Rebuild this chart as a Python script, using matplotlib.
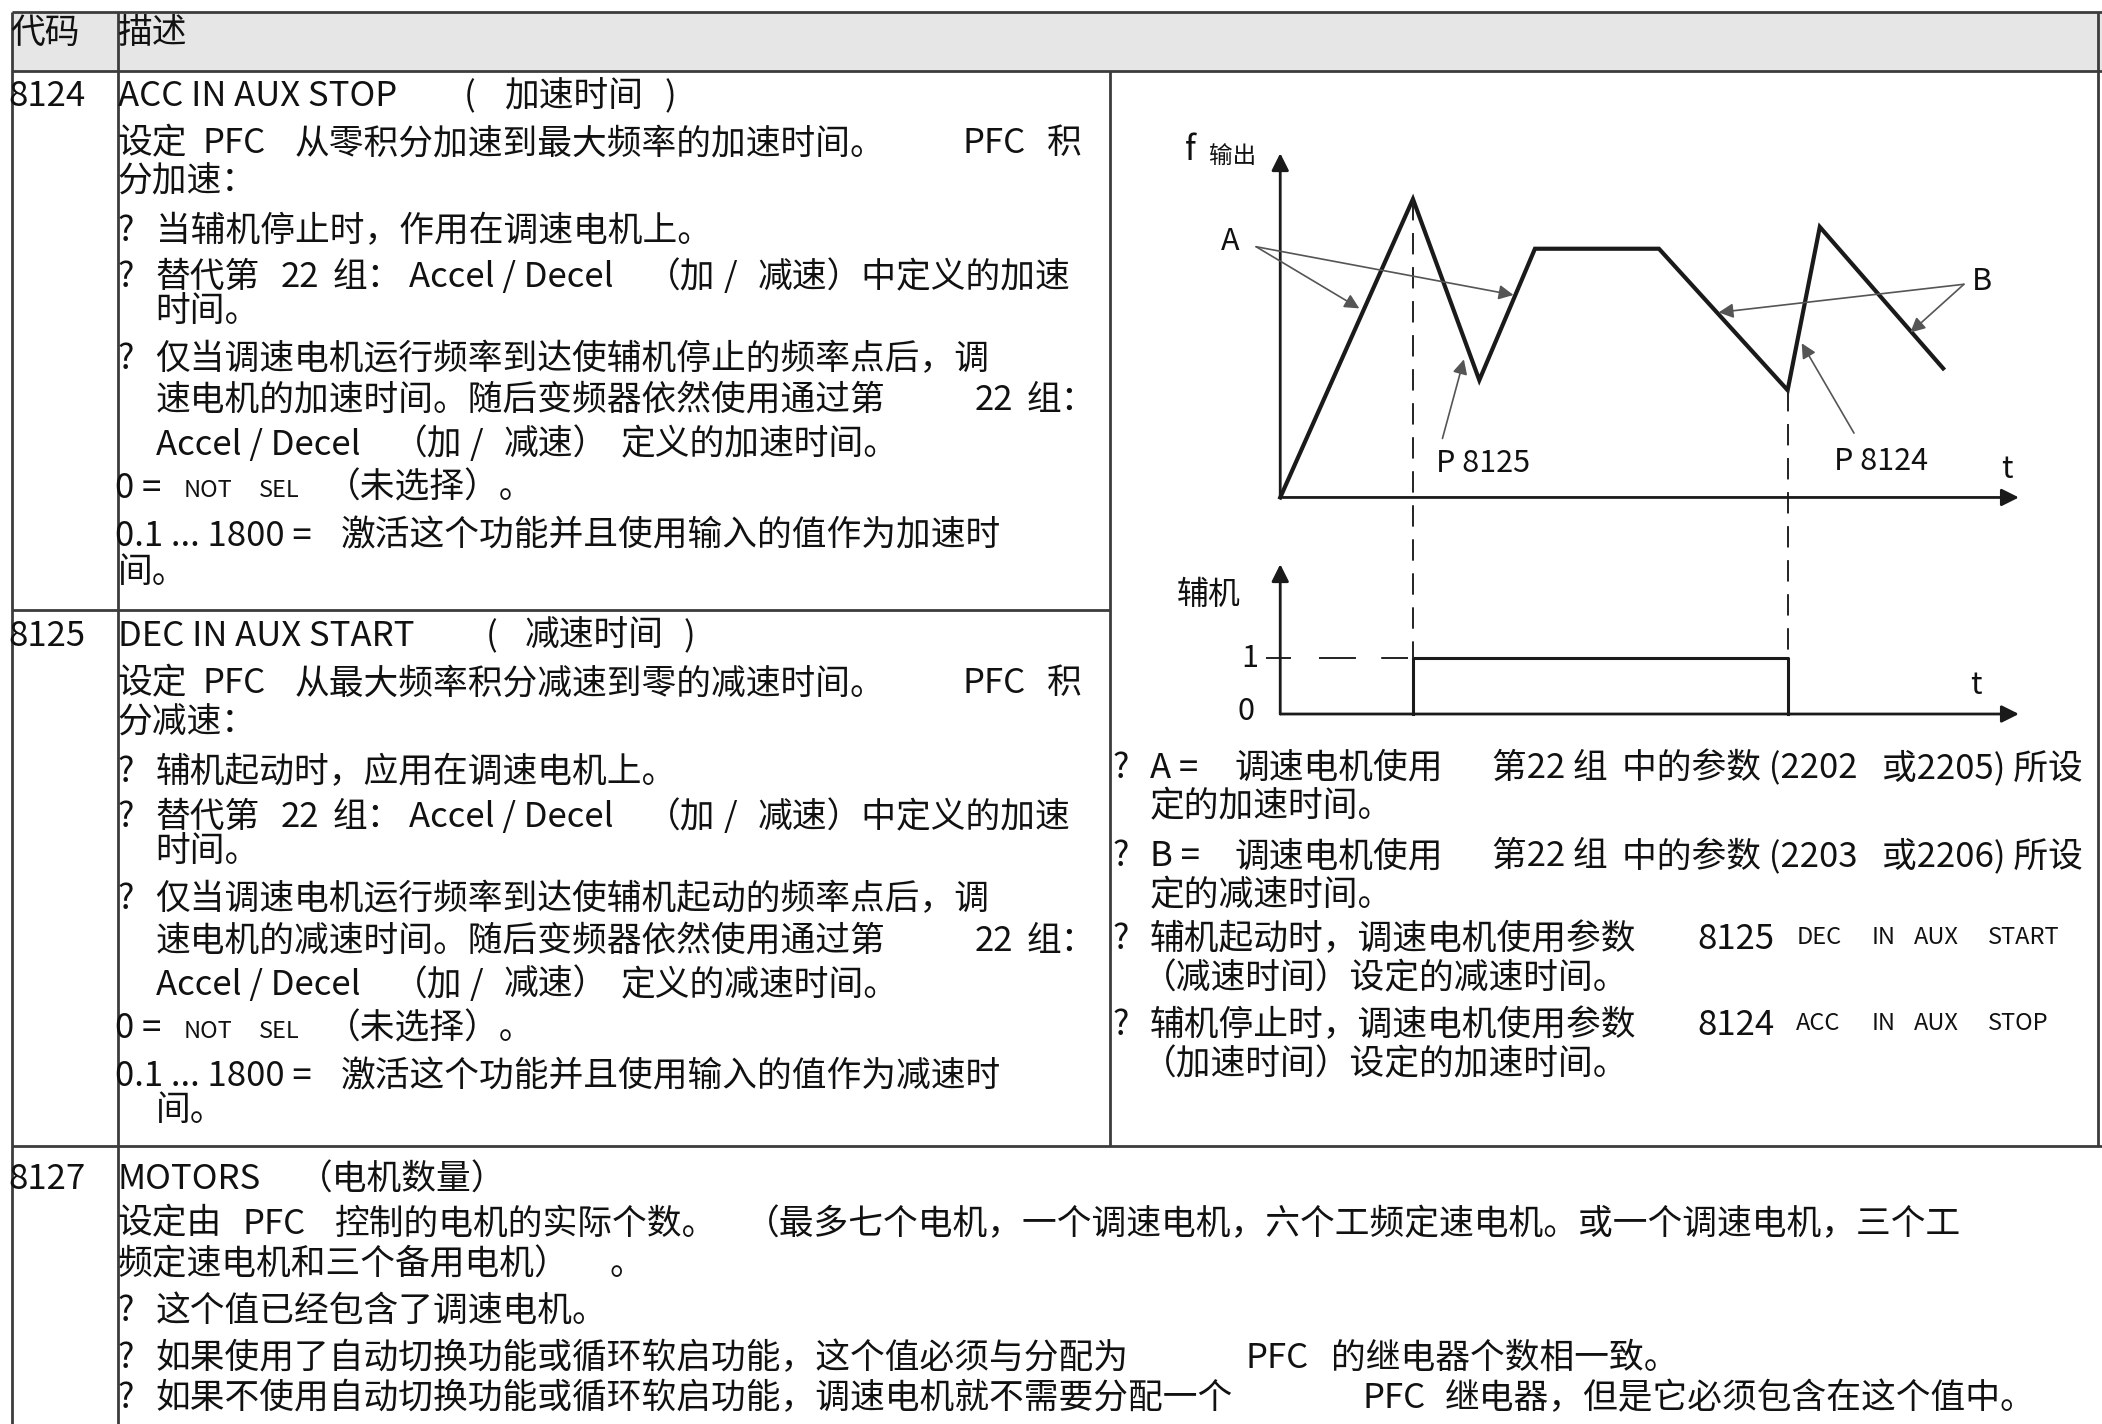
import matplotlib
matplotlib.use('Agg')
import matplotlib.pyplot as plt
from matplotlib.patches import Rectangle

plt.rcParams['font.family'] = ['Noto Sans CJK SC', 'DejaVu Sans']

# ---- data -------------------------------------------------------------
# output frequency of the speed-regulated motor (time units, freq units)
t_curve = [0, 1.98, 2.97, 3.80, 5.65, 7.57, 8.05, 9.89]
f_curve = [0, 8.90, 3.50, 7.42, 7.42, 3.20, 8.07, 3.85]
# auxiliary motor on/off
aux_t = [1.98, 1.98, 7.57, 7.57]
aux_v = [0, 1, 1, 0]

codes = ['8124', '8125', '8127']
titles = ['ACC IN AUX STOP', 'DEC IN AUX START', 'MOTORS']
titles_cn = ['加速时间', '减速时间', '（电机数量）']
summary = ['从零积分加速到最大频率的加速时间。', '从最大频率积分减速到零的减速时间。']
summary2 = ['分加速：', '分减速：']
bullet1 = ['当辅机停止时，作用在调速电机上。', '辅机起动时，应用在调速电机上。']
bullet3a = ['仅当调速电机运行频率到达使辅机停止的频率点后，调',
            '仅当调速电机运行频率到达使辅机起动的频率点后，调']
bullet3b = ['速电机的加速时间。随后变频器依然使用通过第',
            '速电机的减速时间。随后变频器依然使用通过第']
bullet3c = ['定义的加速时间。', '定义的减速时间。']
range_txt = ['激活这个功能并且使用输入的值作为加速时',
             '激活这个功能并且使用输入的值作为减速时']

W, H = 1568, 1062
FS = 25
INK = '#111111'
LINE = '#3c3c3c'

fig = plt.figure(figsize=(21.02, 14.24), dpi=100)
ax = fig.add_axes([0, 0, 1, 1])
ax.set_xlim(0, W)
ax.set_ylim(H, 0)
ax.axis('off')


def put(x, y, s, size=FS, **kw):
    ax.text(x, y + 3, s, fontsize=size, va='center', ha='left', color=INK, **kw)


# ---- table frame ------------------------------------------------------
ax.add_patch(Rectangle((9, 9), W - 9, 44, color='#e6e6e6', lw=0))
for y, x0, x1 in [(9, 9, W), (53, 9, W), (455, 9, 828), (855, 9, W)]:
    ax.plot([x0, x1], [y, y], color=LINE, lw=2.0, solid_capstyle='butt')
for x, y0, y1 in [(9, 9, H), (88, 9, H), (828, 53, 855), (1565, 9, 855)]:
    ax.plot([x, x], [y0, y1], color=LINE, lw=2.0, solid_capstyle='butt')

put(8, 22, '代码')
put(88, 22, '描述')

# ---- rows 8124 / 8125 -------------------------------------------------
paren_x = [(346, 376, 496), (362, 391, 510)]
for k in range(2):
    d = 403 * k
    put(6, 69 + d, codes[k])
    put(88, 69 + d, titles[k])
    p0, p1, p2 = paren_x[k]
    put(p0, 69 + d, '(')
    put(p1, 69 + d, titles_cn[k])
    put(p2, 69 + d, ')')
    put(88, 104 + d, '设定')
    put(151, 104 + d, 'PFC')
    put(220, 104 + d, summary[k])
    put(718, 104 + d, 'PFC')
    put(781, 104 + d, '积')
    put(88, 133 + d, summary2[k])
    put(88, 170 + d, '?')
    put(116, 170 + d, bullet1[k])
    put(88, 204 + d, '?')
    put(116, 204 + d, '替代第')
    put(209, 204 + d, '22')
    put(248, 204 + d, '组：')
    put(305, 204 + d, 'Accel / Decel')
    put(482, 204 + d, '（加')
    put(540, 204 + d, '/')
    put(565, 204 + d, '减速）中定义的加速')
    put(116, 229 + d, '时间。')
    put(88, 265 + d, '?')
    put(116, 265 + d, bullet3a[k])
    put(116, 296 + d, bullet3b[k])
    put(727, 296 + d, '22')
    put(766, 296 + d, '组：')
    put(116, 329 + d, 'Accel / Decel')
    put(293, 329 + d, '（加')
    put(350, 329 + d, '/')
    put(376, 329 + d, '减速）')
    put(463, 329 + d, bullet3c[k])
    put(86, 361 + d, '0 =')
    put(137, 363 + d, 'NOT', size=17)
    put(193, 363 + d, 'SEL', size=17)
    put(243, 361 + d, '（未选择）。')
    put(86, 397 + d, '0.1 ... 1800 =')
    put(254, 397 + d, range_txt[k])
    put(88 if k == 0 else 116, 424 + d - 2 * k, '间。')

# ---- row 8127 -----------------------------------------------------------
put(6, 877, codes[2])
put(88, 877, titles[2])
put(222, 877, titles_cn[2])
put(88, 910, '设定由')
put(181, 910, 'PFC')
put(250, 910, '控制的电机的实际个数。')
put(556, 910, '（最多七个电机，一个调速电机，六个工频定速电机。或一个调速电机，三个工')
put(88, 940, '频定速电机和三个备用电机）')
put(455, 940, '。')
put(88, 975, '?')
put(116, 975, '这个值已经包含了调速电机。')
put(88, 1010, '?')
put(116, 1010, '如果使用了自动切换功能或循环软启功能，这个值必须与分配为')
put(929, 1010, 'PFC')
put(993, 1010, '的继电器个数相一致。')
put(88, 1040, '?')
put(116, 1040, '如果不使用自动切换功能或循环软启功能，调速电机就不需要分配一个')
put(1016, 1040, 'PFC')
put(1078, 1040, '继电器，但是它必须包含在这个值中。')

# ---- right-hand notes -------------------------------------------------
for y, lab, p1, p2, tail in [(570, 'A =', '(2202', '或2205) 所设', '定的加速时间。'),
                             (636, 'B =', '(2203', '或2206) 所设', '定的减速时间。')]:
    put(830, y, '?')
    put(858, y, lab)
    put(921, y, '调速电机使用')
    put(1113, y, '第22 组')
    put(1210, y, '中的参数 ' + p1)
    put(1404, y, p2)
    put(858, y + 29, tail)

for y, head, code, words, tail in [
        (698, '辅机起动时，调速电机使用参数', '8125', ['DEC', 'IN', 'AUX', 'START'], '（减速时间）设定的减速时间。'),
        (762, '辅机停止时，调速电机使用参数', '8124', ['ACC', 'IN', 'AUX', 'STOP'], '（加速时间）设定的加速时间。')]:
    put(830, y, '?')
    put(858, y, head)
    put(1266, y, code)
    for wx, w in zip([1340, 1396, 1428, 1483], words):
        put(wx, y - 2, w, size=17)
    put(852, y + 29, tail)

# ---- timing diagram -------------------------------------------------
axd = fig.add_axes([830 / W, 1 - 560 / H, 730 / W, 500 / H])
axd.set_xlim(-2.5, 12.1)
axd.set_ylim(-7.56, 12.44)
axd.axis('off')
axd.patch.set_alpha(0)

AUX0, AUXH = -6.46, 1.68
axis_arrow = dict(arrowstyle='-|>', color='#1a1a1a', lw=2.0, mutation_scale=26,
                  shrinkA=0, shrinkB=0)
axd.annotate('', xy=(0, 10.27), xytext=(0, 0), arrowprops=axis_arrow)
axd.annotate('', xy=(11.02, 0), xytext=(0, 0), arrowprops=axis_arrow)
axd.annotate('', xy=(0, -1.99), xytext=(0, AUX0), arrowprops=axis_arrow)
axd.annotate('', xy=(11.02, AUX0), xytext=(0, AUX0), arrowprops=axis_arrow)

axd.plot(t_curve, f_curve, color='#1a1a1a', lw=3.0, solid_joinstyle='miter')
axd.plot(aux_t, [AUX0 + v * AUXH for v in aux_v], color='#1a1a1a', lw=2.2)

# dashed guides
dash = (0, (11, 6.5))
axd.plot([t_curve[1], t_curve[1]], [f_curve[1], AUX0 + AUXH], color='#222', lw=1.4, ls=dash)
axd.plot([t_curve[5], t_curve[5]], [f_curve[5], AUX0 + AUXH], color='#222', lw=1.4, ls=dash)
axd.plot([0.58, 1.9], [AUX0 + AUXH] * 2, color='#222', lw=1.4, ls=(0, (19, 13)))
axd.plot([-0.2, 0.14], [AUX0 + AUXH] * 2, color='#222', lw=1.4)

pointer = dict(arrowstyle='-|>', color='#555555', lw=1.2, mutation_scale=22,
               shrinkA=0, shrinkB=0)
for tip in [(1.18, 5.64), (3.48, 6.04)]:
    axd.annotate('', xy=tip, xytext=(-0.36, 7.48), arrowprops=pointer)
for tip in [(6.54, 5.52), (9.40, 4.92)]:
    axd.annotate('', xy=tip, xytext=(10.20, 6.36), arrowprops=pointer)
axd.annotate('', xy=(2.74, 4.12), xytext=(2.42, 1.76), arrowprops=pointer)
axd.annotate('', xy=(7.78, 4.60), xytext=(8.56, 1.92), arrowprops=pointer)

# diagram labels (page coordinates)
put(884, 109, 'f', size=24)
put(902, 114, '输出', size=17)
put(911, 177, 'A', size=22)
put(1471, 207, 'B', size=22)
put(1071, 343, 'P 8125', size=22)
put(1368, 341, 'P 8124', size=22)
put(1493, 347, 't', size=22)
put(878, 441, '辅机', size=23)
put(926, 488, '1', size=22)
put(923, 528, '0', size=22)
put(1470, 508, 't', size=22)

fig.savefig('out.png', dpi=100)
